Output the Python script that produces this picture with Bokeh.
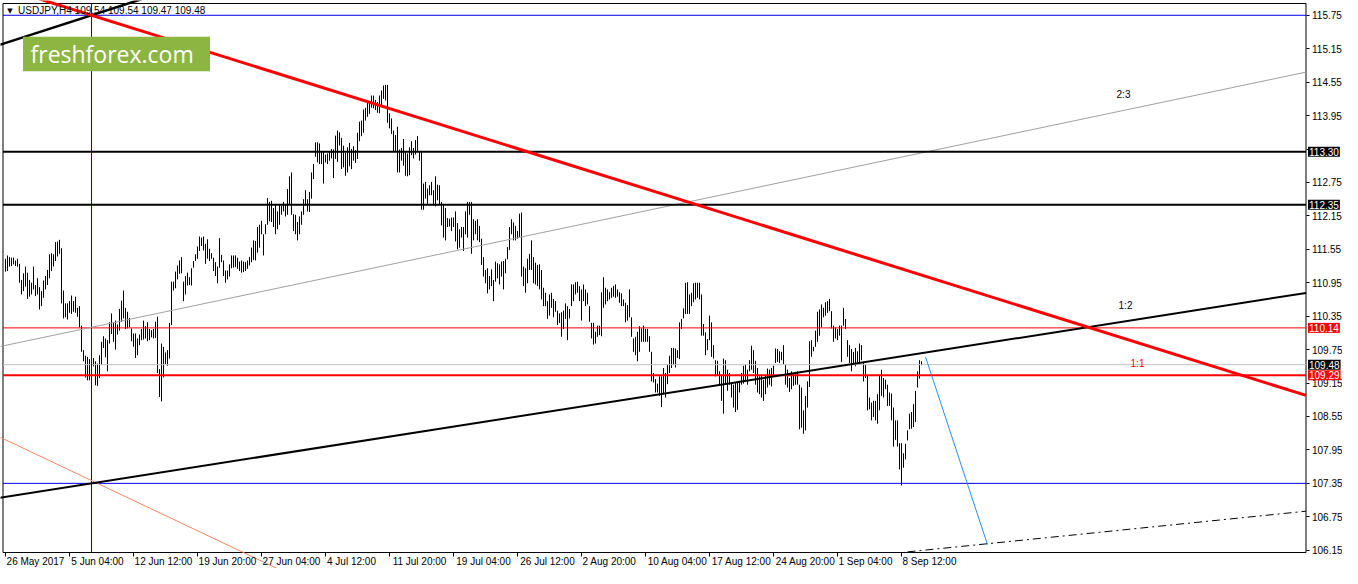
from bokeh.plotting import figure
from bokeh.models import (Range1d, FixedTicker, LinearAxis, Label,
                          BoxAnnotation, PrintfTickFormatter, ColumnDataSource)
from bokeh.embed import file_html
from bokeh.resources import INLINE

# ---------------- data (USDJPY H4 bars) ----------------
highs = [
    111.38, 111.44, 111.41, 111.40, 111.40, 111.35, 111.38, 111.29, 111.00, 111.12,
    111.24, 111.13, 111.00, 110.95, 111.24, 110.91, 111.03, 110.87, 110.80, 110.99,
    111.07, 111.18, 111.46, 111.48, 111.46, 111.68, 111.69, 111.72, 111.57, 110.81,
    110.58, 110.58, 110.62, 110.72, 110.62, 110.70, 110.50, 110.53, 110.18, 109.74,
    109.64, 109.62, 109.58, 109.54, 109.60, 109.54, 109.50, 109.65, 109.89, 109.99,
    109.95, 109.92, 110.24, 110.40, 110.23, 110.27, 110.20, 110.48, 110.63, 110.81,
    110.50, 110.43, 110.32, 110.13, 110.04, 110.04, 109.95, 110.02, 110.12, 110.27,
    110.17, 110.24, 110.12, 110.10, 110.12, 110.25, 110.34, 109.40, 109.86, 109.80,
    109.70, 109.74, 110.23, 110.97, 110.97, 111.15, 111.26, 111.35, 111.41, 110.97,
    111.07, 111.13, 111.05, 111.21, 111.34, 111.46, 111.60, 111.78, 111.76, 111.78,
    111.65, 111.73, 111.56, 111.48, 111.40, 111.32, 111.24, 111.75, 111.45, 111.35,
    111.17, 111.17, 111.28, 111.44, 111.44, 111.44, 111.40, 111.33, 111.35, 111.33,
    111.32, 111.35, 111.41, 111.58, 111.71, 111.70, 111.95, 111.99, 112.06, 111.82,
    112.00, 112.47, 112.40, 112.42, 112.29, 112.36, 112.23, 112.35, 112.33, 112.40,
    112.35, 112.63, 112.86, 112.93, 112.18, 112.17, 112.04, 112.14, 112.23, 112.45,
    112.61, 112.45, 112.58, 112.93, 113.08, 113.47, 113.47, 113.45, 113.31, 113.30,
    113.25, 113.27, 113.31, 113.35, 113.34, 113.59, 113.68, 113.65, 113.55, 113.41,
    113.28, 113.38, 113.46, 113.35, 113.40, 113.33, 113.64, 113.84, 113.86, 114.06,
    114.09, 114.19, 114.20, 114.31, 114.31, 114.23, 114.19, 114.31, 114.40, 114.49,
    114.50, 114.50, 113.99, 113.90, 113.68, 113.60, 113.75, 113.34, 113.37, 113.53,
    113.31, 113.27, 113.38, 113.49, 113.37, 113.51, 113.58, 113.31, 113.31, 112.73,
    112.76, 112.64, 112.70, 112.76, 112.61, 112.86, 112.71, 112.70, 112.40, 112.35,
    112.29, 112.11, 112.10, 112.12, 112.12, 112.23, 112.02, 111.91, 111.95, 111.95,
    112.23, 112.40, 112.40, 112.40, 112.09, 112.06, 112.09, 111.97, 111.74, 111.41,
    111.18, 111.21, 111.07, 111.19, 111.00, 111.33, 111.30, 111.28, 111.33, 111.34,
    111.38, 111.59, 111.95, 112.09, 112.03, 111.97, 111.88, 112.19, 112.21, 111.24,
    111.21, 111.38, 111.47, 111.71, 111.41, 111.31, 111.27, 111.28, 111.18, 110.86,
    110.77, 110.62, 110.74, 110.77, 110.66, 110.62, 110.45, 110.40, 110.42, 110.45,
    110.58, 110.53, 110.48, 110.92, 110.92, 110.96, 110.97, 110.89, 110.83, 110.92,
    110.83, 110.77, 110.53, 110.23, 110.23, 110.07, 110.18, 110.18, 110.78, 111.05,
    110.86, 110.83, 110.78, 110.86, 110.89, 110.92, 110.83, 110.78, 110.76, 110.65,
    110.59, 110.55, 110.83, 110.33, 109.95, 109.98, 110.07, 110.17, 110.13, 110.18,
    110.12, 110.12, 109.99, 109.71, 109.33, 109.22, 109.14, 109.27, 109.27, 109.42,
    109.33, 109.48, 109.64, 109.78, 109.78, 109.77, 109.74, 110.24, 110.30, 110.49,
    110.95, 110.96, 110.74, 110.77, 110.94, 110.95, 110.95, 110.95, 110.74, 110.21,
    110.06, 109.94, 110.36, 110.24, 109.83, 109.56, 109.55, 109.36, 109.30, 109.59,
    109.56, 109.39, 109.33, 109.15, 109.12, 109.15, 109.17, 109.19, 109.33, 109.46,
    109.48, 109.39, 109.56, 109.82, 109.74, 109.55, 109.42, 109.27, 109.30, 109.21,
    109.30, 109.41, 109.39, 109.42, 109.46, 109.77, 109.76, 109.72, 109.71, 109.83,
    109.48, 109.39, 109.24, 109.36, 109.30, 109.35, 109.36, 109.12, 109.07, 108.66,
    108.92, 109.18, 109.90, 109.92, 109.80, 110.09, 110.43, 110.47, 110.56, 110.50,
    110.60, 110.62, 110.66, 110.44, 110.18, 110.15, 110.12, 110.18, 110.18, 110.50,
    110.30, 109.92, 109.83, 109.76, 109.71, 109.78, 109.72, 109.86, 109.83, 109.53,
    109.48, 109.30, 108.89, 108.80, 108.83, 108.83, 108.95, 109.30, 109.39, 109.24,
    109.21, 109.12, 108.98, 108.96, 108.71, 108.48, 108.48, 108.07, 108.07, 107.89,
    108.06, 108.30, 108.60, 108.63, 108.77, 109.01, 109.36, 109.56, 109.54,
]
lows = [
    111.15, 111.16, 111.24, 111.25, 111.28, 111.25, 111.24, 110.95, 110.74, 110.80,
    110.88, 110.66, 110.70, 110.74, 110.83, 110.71, 110.74, 110.47, 110.53, 110.68,
    110.83, 110.91, 111.03, 111.16, 111.24, 111.34, 111.42, 111.47, 110.58, 110.31,
    110.33, 110.29, 110.41, 110.39, 110.43, 110.41, 110.34, 110.15, 109.71, 109.54,
    109.25, 109.20, 109.20, 109.24, 109.45, 109.11, 109.10, 109.24, 109.48, 109.78,
    109.61, 109.36, 109.86, 110.03, 109.89, 109.75, 110.02, 110.09, 110.25, 110.31,
    110.12, 110.13, 110.15, 109.90, 109.80, 109.60, 109.65, 109.83, 109.92, 109.93,
    109.95, 109.90, 109.92, 109.97, 109.95, 109.96, 109.33, 108.90, 108.82, 109.25,
    109.49, 109.46, 109.59, 110.19, 110.81, 110.85, 111.01, 111.11, 111.12, 110.62,
    110.74, 110.90, 110.91, 110.90, 111.22, 111.34, 111.38, 111.52, 111.61, 111.53,
    111.29, 111.38, 111.34, 111.38, 111.16, 111.07, 110.94, 111.22, 111.32, 111.07,
    110.95, 111.01, 111.06, 111.21, 111.22, 111.23, 111.20, 111.16, 111.13, 111.14,
    111.16, 111.20, 111.26, 111.32, 111.36, 111.35, 111.49, 111.58, 111.82, 111.44,
    111.82, 111.99, 112.05, 112.04, 111.95, 111.82, 111.91, 111.99, 112.17, 112.23,
    112.14, 112.17, 112.35, 112.17, 111.88, 111.82, 111.71, 111.82, 111.99, 112.17,
    112.33, 112.23, 112.22, 112.46, 112.81, 113.21, 113.11, 113.08, 113.08, 112.73,
    113.11, 113.08, 113.14, 113.18, 112.83, 113.17, 113.12, 113.41, 112.99, 113.02,
    112.87, 112.93, 113.04, 112.99, 113.14, 113.10, 113.17, 113.49, 113.58, 113.64,
    113.86, 113.93, 113.98, 114.09, 114.08, 114.05, 114.00, 113.99, 114.10, 114.25,
    114.22, 113.82, 113.72, 113.62, 113.31, 113.31, 112.93, 112.93, 113.14, 113.05,
    112.87, 112.86, 112.88, 113.24, 113.18, 113.25, 113.31, 113.14, 112.26, 112.26,
    112.46, 112.35, 112.52, 112.52, 112.33, 112.32, 112.43, 112.35, 111.98, 111.76,
    111.71, 111.95, 111.96, 111.88, 111.95, 111.69, 111.55, 111.58, 111.76, 111.52,
    111.82, 111.76, 112.17, 111.47, 111.71, 111.82, 111.71, 111.68, 111.27, 111.06,
    110.94, 110.76, 110.83, 110.89, 110.62, 110.97, 111.03, 110.92, 111.06, 110.83,
    111.12, 111.37, 111.54, 111.82, 111.71, 111.71, 111.74, 111.77, 111.06, 110.89,
    110.77, 110.94, 111.18, 111.18, 110.94, 110.92, 110.89, 110.83, 110.65, 110.53,
    110.53, 110.30, 110.36, 110.50, 110.33, 110.43, 110.19, 110.23, 109.98, 110.12,
    110.30, 109.92, 110.31, 110.53, 110.62, 110.74, 110.77, 110.62, 110.27, 110.62,
    110.53, 110.56, 110.25, 109.95, 109.84, 109.86, 109.98, 110.01, 109.99, 110.50,
    110.56, 110.62, 110.65, 110.68, 110.70, 110.68, 110.70, 110.59, 110.53, 110.53,
    110.24, 110.27, 110.33, 109.98, 109.71, 109.65, 109.54, 109.71, 109.89, 109.89,
    109.89, 109.89, 109.71, 109.18, 109.16, 108.98, 108.98, 108.92, 108.72, 108.95,
    108.89, 109.13, 109.33, 109.42, 109.48, 109.43, 109.60, 109.58, 110.12, 110.31,
    110.39, 110.39, 110.39, 110.53, 110.60, 110.65, 110.68, 110.65, 110.00, 110.00,
    109.65, 109.74, 109.92, 109.62, 109.59, 109.27, 109.30, 109.12, 108.83, 108.60,
    109.12, 109.01, 109.12, 108.89, 108.71, 108.63, 108.67, 108.98, 109.12, 109.14,
    109.18, 109.12, 109.36, 109.39, 109.33, 109.12, 108.98, 108.95, 108.89, 108.83,
    108.95, 109.07, 109.12, 109.09, 109.30, 109.51, 109.53, 109.51, 109.56, 109.49,
    109.12, 109.07, 108.99, 109.04, 109.10, 109.12, 109.12, 108.32, 108.35, 108.24,
    108.30, 108.71, 109.08, 109.62, 109.72, 109.80, 109.89, 110.00, 110.15, 110.33,
    110.36, 110.41, 110.44, 110.13, 109.89, 109.95, 109.92, 110.00, 109.53, 110.18,
    110.12, 109.62, 109.51, 109.36, 109.51, 109.45, 109.51, 109.48, 109.56, 109.18,
    109.24, 108.66, 108.68, 108.48, 108.54, 108.48, 108.42, 108.66, 108.92, 108.89,
    109.04, 108.74, 108.74, 108.48, 108.01, 108.13, 108.01, 107.60, 107.31, 107.63,
    107.78, 108.12, 108.32, 108.33, 108.36, 108.45, 109.07, 109.23, 109.47,
]
bar_index = list(range(len(highs)))

time_ticks = [0, 32, 64, 96, 128, 160, 192, 224, 256, 288, 320, 352, 384, 416, 448]
time_labels = ["26 May 2017", "5 Jun 04:00", "12 Jun 12:00", "19 Jun 20:00",
               "27 Jun 04:00", "4 Jul 12:00", "11 Jul 20:00", "19 Jul 04:00",
               "26 Jul 12:00", "2 Aug 20:00", "10 Aug 04:00", "17 Aug 12:00",
               "24 Aug 20:00", "1 Sep 04:00", "8 Sep 12:00"]
price_ticks = [106.15, 106.75, 107.35, 107.95, 108.55, 109.15, 109.75, 110.35,
               110.95, 111.55, 112.15, 112.75, 113.35, 113.95, 114.55, 115.15, 115.75]
hidden_tick_labels = [113.35]   # covered by the 113.30 price tag

# horizontal levels and drawn objects (bar index, price)
blue_levels = [115.75, 107.35]
blue_vertical_bar = 43
black_levels = [113.30, 112.35]
red_thin_level = 110.14
red_thick_level = 109.29
bid_level = 109.48

red_trend_x, red_trend_y = [-60, 650.25], [116.907, 108.928]
black_top_x, black_top_y = [-10, 80], [115.138, 116.177]
fan_12_x, fan_12_y = [-10, 650.25], [107.052, 110.767]
fan_23_x, fan_23_y = [-10, 650.25], [109.751, 114.730]
fan_low_x, fan_low_y = [-10, 200], [108.302, 104.731]
proj_x, proj_y = [460, 491], [109.62, 106.25]
dashdot_x, dashdot_y = [451, 650.25], [106.12, 106.85]

tags = [(113.30, "113.30", "black"), (112.35, "112.35", "black"),
        (110.14, "110.14", "#FF0000"), (109.48, "109.48", "black"),
        (109.29, "109.29", "#FF0000")]

# ---------------- layout constants ----------------
FONT = "Liberation Sans"
X0, X1 = -2.5, 668.5            # 2 px per bar over a 1342 px frame
Y0, Y1 = 105.822, 116.015
LEFT_B, RIGHT_B = -1.25, 650.25  # chart border / price-axis position (bar units)
TOP_B, BOT_B = 115.961, 106.109  # chart border (price units)
BLUE = "#0000F0"

p = figure(width=1342, height=568, x_range=Range1d(X0, X1), y_range=Range1d(Y0, Y1),
           y_axis_location="right", output_backend="svg", toolbar_location=None,
           min_border_left=0, min_border_top=0, min_border_right=0, min_border_bottom=0,
           background_fill_color="white", border_fill_color="white")
p.grid.visible = False
p.outline_line_color = None

# price axis, drawn at the right border of the chart
ya = p.yaxis[0]
ya.fixed_location = RIGHT_B
ya.ticker = FixedTicker(ticks=price_ticks, minor_ticks=[])
ya.formatter = PrintfTickFormatter(format="%.2f")
ya.major_label_overrides = {t: "" for t in hidden_tick_labels}
ya.major_tick_out = 3
ya.major_tick_in = 0
ya.major_tick_line_color = "black"
ya.minor_tick_line_color = None
ya.major_label_standoff = 3
ya.major_label_text_font = FONT
ya.major_label_text_font_size = "10px"
ya.major_label_text_color = "black"
ya.axis_line_color = None

# time axis: tick marks hanging from the bottom border
xa = p.xaxis[0]
xa.fixed_location = BOT_B
xa.ticker = FixedTicker(ticks=time_ticks, minor_ticks=[])
xa.major_tick_out = 4
xa.major_tick_in = 0
xa.minor_tick_line_color = None
xa.major_label_text_font_size = "1px"
xa.major_label_text_color = None
xa.major_label_standoff = 0
xa.axis_line_color = None

# time labels, left-aligned after each tick (shifted centres)
cw = {" ": 0.278, ":": 0.278, "J": 0.5, "M": 0.833, "A": 0.667, "S": 0.667,
      "u": 0.556, "n": 0.556, "a": 0.556, "y": 0.5, "l": 0.222, "g": 0.556,
      "e": 0.556, "p": 0.556}
def text_w(s):
    return sum(cw.get(ch, 0.556) for ch in s) * 10.0
centers = [t + int(round((2 + text_w(s) / 2) / 2)) for t, s in zip(time_ticks, time_labels)]
lab_axis = LinearAxis(ticker=FixedTicker(ticks=centers, minor_ticks=[]),
                      major_label_overrides={c: s for c, s in zip(centers, time_labels)},
                      fixed_location=BOT_B,
                      axis_line_color=None, major_tick_line_color=None, major_tick_out=0,
                      minor_tick_line_color=None, major_label_standoff=3,
                      major_label_text_font=FONT, major_label_text_font_size="10px",
                      major_label_text_color="black")
p.add_layout(lab_axis, "below")

# chart border
p.segment(x0=[LEFT_B, LEFT_B, LEFT_B, RIGHT_B], y0=[BOT_B, TOP_B, BOT_B, BOT_B],
          x1=[LEFT_B, RIGHT_B, RIGHT_B, RIGHT_B], y1=[TOP_B, TOP_B, BOT_B, TOP_B],
          line_color="black", line_width=1)

# bars
src = ColumnDataSource(dict(x=bar_index, high=highs, low=lows))
p.segment(x0="x", y0="low", x1="x", y1="high", source=src, line_color="black", line_width=1)

# horizontal / vertical levels
def hlines(levels, color, width):
    n = len(levels)
    p.segment(x0=[LEFT_B] * n, y0=levels, x1=[RIGHT_B] * n, y1=levels,
              line_color=color, line_width=width)

hlines(blue_levels, BLUE, 1)
hlines([bid_level], "#C0C0C0", 1)
hlines([red_thin_level], "#FF0000", 1)
p.segment(x0=[blue_vertical_bar], y0=[BOT_B], x1=[blue_vertical_bar], y1=[TOP_B],
          line_color=BLUE, line_width=1)

# fan / trend lines
p.line(fan_23_x, fan_23_y, line_color="#A0A0A0", line_width=1)
p.line(fan_low_x, fan_low_y, line_color="#F4845F", line_width=1)
hlines(black_levels, "black", 2)
hlines([red_thick_level], "#FF0000", 2)
p.line(fan_12_x, fan_12_y, line_color="black", line_width=2)
p.line(black_top_x, black_top_y, line_color="black", line_width=2.5)
p.line(red_trend_x, red_trend_y, line_color="#FF0000", line_width=3)
p.line(proj_x, proj_y, line_color="#1E90FF", line_width=1)
p.line(dashdot_x, dashdot_y, line_color="black", line_width=1, line_dash="8 4 2 4")

# fan labels
p.add_layout(Label(x=559, y=114.33, text="2:3", text_font=FONT, text_font_size="10px",
                   text_color="black", text_align="center", text_baseline="middle"))
p.add_layout(Label(x=560, y=110.54, text="1:2", text_font=FONT, text_font_size="10px",
                   text_color="black", text_align="center", text_baseline="middle"))
p.add_layout(Label(x=566, y=109.50, text="1:1", text_font=FONT, text_font_size="10px",
                   text_color="#FF0000", text_align="center", text_baseline="middle"))

# watermark
p.add_layout(BoxAnnotation(left=8.75, right=102.25, bottom=114.747, top=115.363,
                           fill_color="#8DB541", fill_alpha=1.0, line_color=None))
p.add_layout(Label(x=12.5, y=115.05, text="freshforex.com", text_font="Open Sans",
                   text_font_size="23px", text_color="white", text_baseline="middle",
                   text_align="left"))

# header
p.add_layout(Label(x=0.9, y=115.835, text="\u25BC", text_font="DejaVu Sans",
                   text_font_size="7px", text_color="black", text_baseline="middle"))
p.add_layout(Label(x=6.3, y=115.835, text="USDJPY,H4  109.54 109.54 109.47 109.48",
                   text_font=FONT, text_font_size="10px", text_color="black",
                   text_baseline="middle"))

# price tags on the price axis (drawn over the axis labels)
for price, txt, col in tags:
    p.add_layout(Label(x=RIGHT_B + 1.0, y=price, text=txt, text_font=FONT,
                       text_font_size="10px", text_color="white",
                       background_fill_color=col, background_fill_alpha=1.0,
                       text_baseline="middle", text_align="left", padding=1,
                       level="overlay"))

open("out.html", "w").write(file_html(p, INLINE))
